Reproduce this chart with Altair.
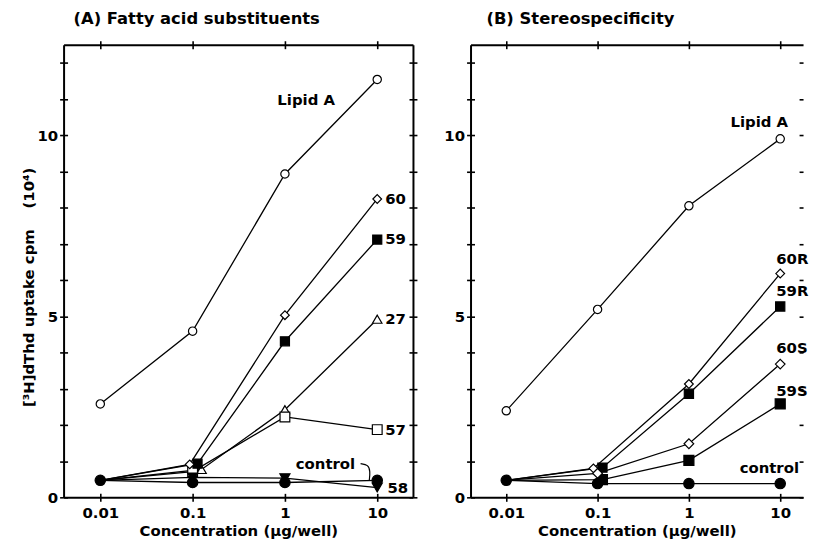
import altair as alt
import pandas as pd

FONT = "DejaVu Sans"

# ---------------- Panel A: fatty acid substituents ----------------
A_SERIES = ["Lipid A", "60", "59", "27", "57", "58", "control"]
A_LIPID_X = [0.01, 0.1, 1, 10]
A_LIPID_Y = [2.58, 4.59, 8.93, 11.54]
A_60_X = [0.01, 0.093, 1, 10]
A_60_Y = [0.47, 0.91, 5.03, 8.24]
A_59_X = [0.01, 0.113, 1, 10]
A_59_Y = [0.47, 0.93, 4.31, 7.12]
A_27_X = [0.01, 0.125, 1, 10]
A_27_Y = [0.47, 0.77, 2.42, 4.92]
A_57_X = [0.01, 0.1, 1, 10]
A_57_Y = [0.47, 0.71, 2.22, 1.87]
A_58_X = [0.01, 0.1, 1, 10]
A_58_Y = [0.47, 0.55, 0.53, 0.27]
A_CTRL_X = [0.01, 0.1, 1, 10]
A_CTRL_Y = [0.47, 0.41, 0.41, 0.47]

A_LABEL_TEXT = ["Lipid A", "60", "59", "27", "57", "58", "control"]
A_LABEL_X = [1.7, 12.2, 12.2, 12.2, 12.2, 12.9, 2.75]
A_LABEL_Y = [10.96, 8.24, 7.12, 4.92, 1.87, 0.27, 0.92]
A_LABEL_ALIGN = ["center", "left", "left", "left", "left", "left", "center"]

A_ARROW_X = [6.6, 8.0, 8.4, 8.2]
A_ARROW_Y = [0.93, 0.90, 0.72, 0.47]

# ---------------- Panel B: stereospecificity ----------------
B_SERIES = ["Lipid A", "60R", "59R", "60S", "59S", "control"]
B_LIPID_X = [0.01, 0.1, 1, 10]
B_LIPID_Y = [2.39, 5.19, 8.05, 9.90]
B_60R_X = [0.01, 0.09, 1, 10]
B_60R_Y = [0.47, 0.80, 3.13, 6.18]
B_59R_X = [0.01, 0.113, 1, 10]
B_59R_Y = [0.47, 0.82, 2.86, 5.27]
B_60S_X = [0.01, 0.1, 1, 10]
B_60S_Y = [0.47, 0.66, 1.48, 3.68]
B_59S_X = [0.01, 0.113, 1, 10]
B_59S_Y = [0.47, 0.49, 1.02, 2.58]
B_CTRL_X = [0.01, 0.1, 1, 10]
B_CTRL_Y = [0.47, 0.38, 0.38, 0.38]

B_LABEL_TEXT = ["Lipid A", "60R", "59R", "60S", "59S", "control"]
B_LABEL_X = [5.9, 9.05, 9.05, 9.05, 9.05, 7.6]
B_LABEL_Y = [10.36, 6.57, 5.69, 4.12, 2.94, 0.82]
B_LABEL_ALIGN = ["center", "left", "left", "left", "left", "center"]

X_TICKS = [0.01, 0.1, 1, 10]
Y_TICKS = list(range(0, 13))


def series_frame(names, xs, ys):
    rows = []
    for n, xv, yv in zip(names, xs, ys):
        for a, b in zip(xv, yv):
            rows.append({"series": n, "conc": a, "value": b})
    return pd.DataFrame(rows)


dfA = series_frame(
    A_SERIES,
    [A_LIPID_X, A_60_X, A_59_X, A_27_X, A_57_X, A_58_X, A_CTRL_X],
    [A_LIPID_Y, A_60_Y, A_59_Y, A_27_Y, A_57_Y, A_58_Y, A_CTRL_Y],
)
dfB = series_frame(
    B_SERIES,
    [B_LIPID_X, B_60R_X, B_59R_X, B_60S_X, B_59S_X, B_CTRL_X],
    [B_LIPID_Y, B_60R_Y, B_59R_Y, B_60S_Y, B_59S_Y, B_CTRL_Y],
)
labA = pd.DataFrame({"text": A_LABEL_TEXT, "conc": A_LABEL_X, "value": A_LABEL_Y, "align": A_LABEL_ALIGN})
labB = pd.DataFrame({"text": B_LABEL_TEXT, "conc": B_LABEL_X, "value": B_LABEL_Y, "align": B_LABEL_ALIGN})
arrowA = pd.DataFrame({"conc": A_ARROW_X, "value": A_ARROW_Y, "k": list(range(len(A_ARROW_X)))})

SHAPE = {"Lipid A": "circle", "60": "diamond", "59": "square", "27": "triangle-up",
         "57": "square", "58": "triangle-down", "control": "circle",
         "60R": "diamond", "59R": "square", "60S": "diamond", "59S": "square"}
FILL = {"Lipid A": "white", "60": "white", "59": "black", "27": "white",
        "57": "white", "58": "black", "control": "black",
        "60R": "white", "59R": "black", "60S": "white", "59S": "black"}
SIZE = {"Lipid A": 70, "60": 110, "59": 50, "27": 80, "57": 55, "58": 65, "control": 75,
        "60R": 110, "59R": 50, "60S": 110, "59S": 50}

PLOT_H = 456


def tick_axis(orient, values, offset=0, domain=False, size=4):
    return alt.Axis(orient=orient, values=values, labels=False, title=None, grid=False,
                    ticks=True, tickSize=size, tickWidth=1.6, tickColor="black",
                    domain=domain, domainColor="black", domainWidth=2, offset=offset)


def panel(df, lab, series, xdom, width, title, title_dx, ytitle, right_outer, arrow=None):
    xs = alt.Scale(type="log", domain=xdom, nice=False)
    ys = alt.Scale(domain=[0, 12.5], nice=False, zero=False)
    x_main = alt.Axis(orient="bottom", values=X_TICKS, format="~g", title="Concentration (µg/well)",
                      grid=False, domain=True, domainColor="black", domainWidth=2,
                      ticks=True, tickSize=4, tickWidth=1.6, tickColor="black",
                      labelFont=FONT, labelFontSize=15, labelFontWeight="bold", labelColor="black",
                      labelPadding=4, titleFont=FONT, titleFontSize=15, titleFontWeight="bold",
                      titleColor="black", titlePadding=3)
    yargs = dict(orient="left", values=Y_TICKS, grid=False, domain=True, domainColor="black",
                 domainWidth=2, ticks=True, tickSize=4, tickWidth=1.6, tickColor="black",
                 labelExpr="datum.value % 5 === 0 ? datum.label : ''",
                 labelFont=FONT, labelFontSize=15, labelFontWeight="bold", labelColor="black",
                 labelPadding=2)
    if ytitle:
        y_main = alt.Axis(title=ytitle, titleFont=FONT, titleFontSize=15, titleFontWeight="bold",
                          titleColor="black", titleX=-35, titleY=244, titleBaseline="middle",
                          titleAlign="center", titleAngle=-90, **yargs)
    else:
        y_main = alt.Axis(title=None, **yargs)

    sdom = series
    shape_sc = alt.Scale(domain=sdom, range=[SHAPE[s] for s in sdom])
    fill_sc = alt.Scale(domain=sdom, range=[FILL[s] for s in sdom])
    size_sc = alt.Scale(domain=sdom, range=[SIZE[s] for s in sdom])

    base = alt.Chart(df)
    lines = base.mark_line(color="black", strokeWidth=1.3).encode(
        x=alt.X("conc:Q", scale=xs, axis=x_main),
        y=alt.Y("value:Q", scale=ys, axis=y_main),
        detail="series:N",
    )
    if right_outer:
        right_ax = tick_axis("right", Y_TICKS, domain=True)
    else:
        right_ax = tick_axis("right", Y_TICKS, offset=-4)
    pts = base.mark_point(filled=True, stroke="black", strokeWidth=1.2, opacity=1).transform_filter(
        "datum.conc > 0.011 || datum.series == 'control' || datum.series == 'Lipid A'"
    ).encode(
        x=alt.X("conc:Q", scale=xs, axis=tick_axis("top", X_TICKS, domain=True)),
        y=alt.Y("value:Q", scale=ys, axis=right_ax),
        shape=alt.Shape("series:N", scale=shape_sc, legend=None),
        fill=alt.Fill("series:N", scale=fill_sc, legend=None),
        size=alt.Size("series:N", scale=size_sc, legend=None),
        order=alt.Order("series:N"),
    )
    t_left = alt.Chart(lab).transform_filter("datum.align == 'left'").mark_text(
        font=FONT, fontSize=15, fontWeight="bold", color="black", baseline="middle", align="left"
    ).encode(
        x=alt.X("conc:Q", scale=xs, axis=tick_axis("bottom", X_TICKS, offset=-4)),
        y=alt.Y("value:Q", scale=ys, axis=tick_axis("left", Y_TICKS, offset=-4)),
        text="text:N",
    )
    ghost_y = tick_axis("right", Y_TICKS, offset=-4) if right_outer else None
    t_center = alt.Chart(lab).transform_filter("datum.align == 'center'").mark_text(
        font=FONT, fontSize=15, fontWeight="bold", color="black", baseline="middle", align="center"
    ).encode(
        x=alt.X("conc:Q", scale=xs, axis=tick_axis("top", X_TICKS, offset=-4)),
        y=alt.Y("value:Q", scale=ys, axis=ghost_y),
        text="text:N",
    )
    layers = [lines, pts, t_left, t_center]
    if arrow is not None:
        arr = alt.Chart(arrow).mark_line(color="black", strokeWidth=1.2, interpolate="basis").encode(
            x=alt.X("conc:Q", scale=xs, axis=None),
            y=alt.Y("value:Q", scale=ys, axis=None),
            order="k:Q",
        )
        layers.append(arr)
    return alt.layer(*layers).resolve_axis(x="independent", y="independent").properties(
        width=width, height=PLOT_H,
        title=alt.TitleParams(text=title, anchor="start", frame="group", dx=title_dx, offset=0,
                              font=FONT, fontSize=16.5, fontWeight="bold", color="black",
                              baseline="alphabetic"),
    )


a_lo = -2 - 37 / 93
a_hi = a_lo + 352 / 93
b_lo = -2 - 36 / 92
b_hi = b_lo + 335 / 92

panelA = panel(dfA, labA, A_SERIES, [10 ** a_lo, 10 ** a_hi], 352,
               "(A) Fatty acid substituents", 10,
               "[³H]dThd uptake cpm\u00a0\u00a0\u00a0\u00a0(10⁴)", True, arrow=arrowA)
panelB = panel(dfB, labB, B_SERIES, [10 ** b_lo, 10 ** b_hi], 335,
               "(B) Stereospecificity", 16, None, False)

chart = alt.hconcat(panelA, panelB, spacing=26).resolve_scale(
    shape="independent", fill="independent", size="independent"
).properties(
    padding={"left": 14, "top": 0, "right": 0, "bottom": 0},
    background="white",
).configure_view(stroke=None)

chart.save("out.html", embed_options={"renderer": "svg", "actions": False})
